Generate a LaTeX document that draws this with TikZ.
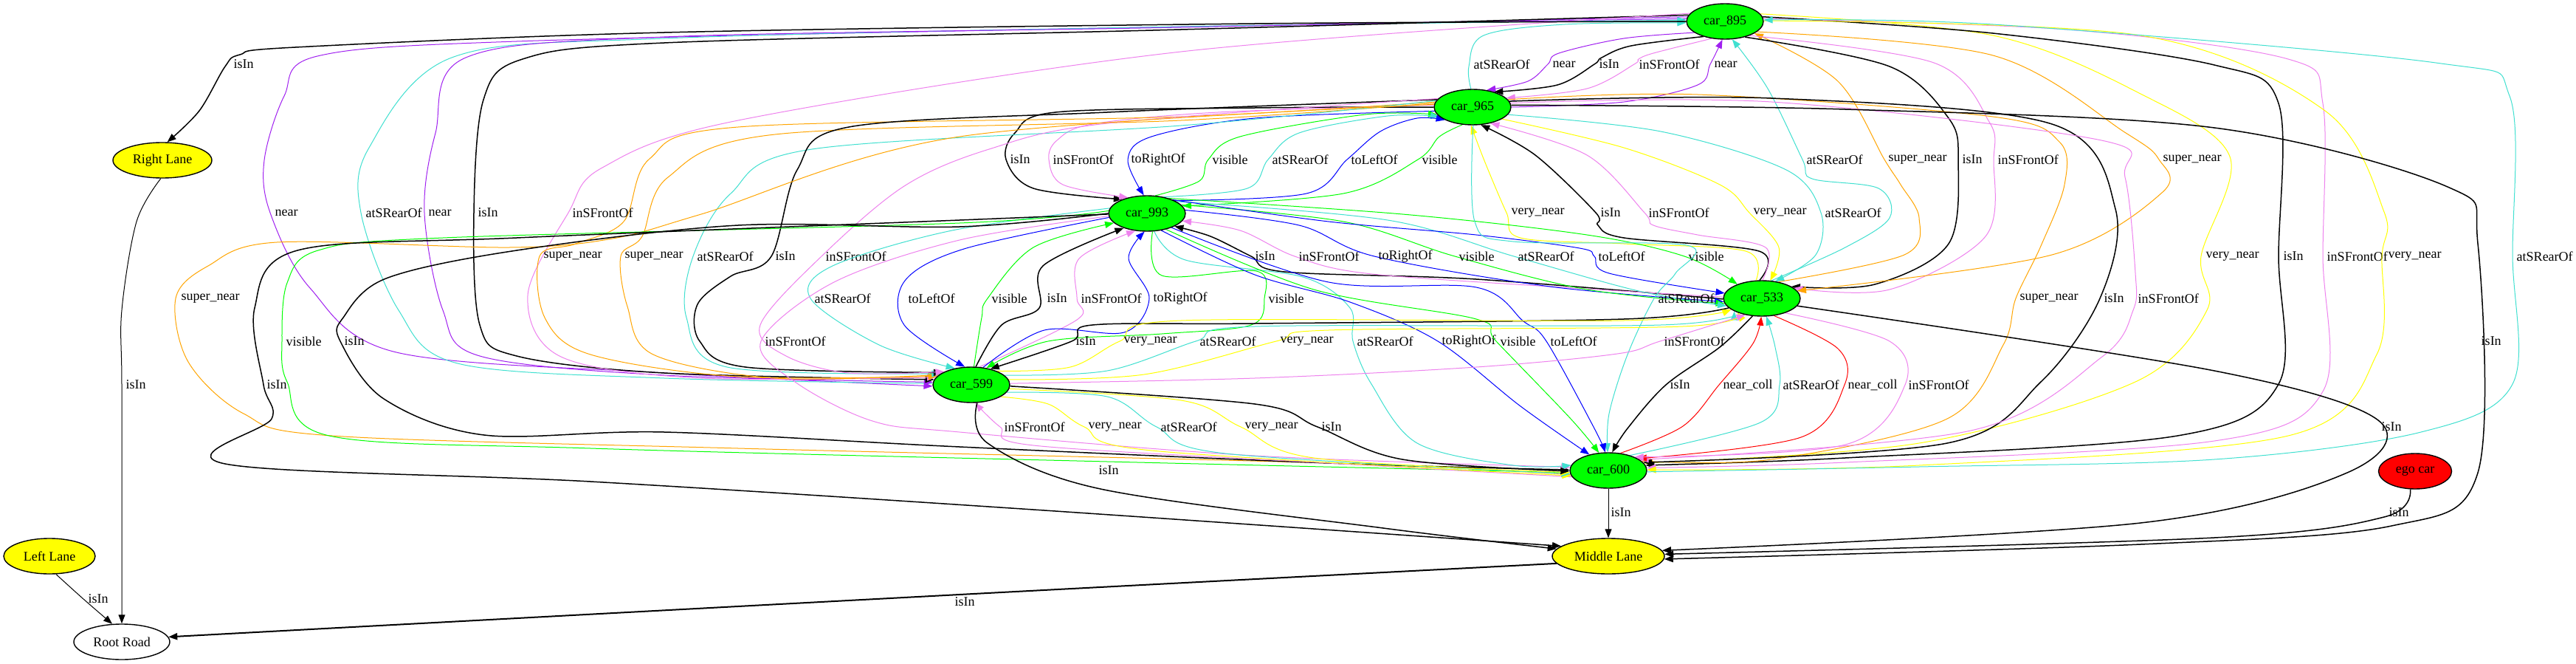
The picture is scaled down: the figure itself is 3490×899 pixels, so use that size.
\documentclass[tikz,border=0pt]{standalone}
\usepackage{fontspec}
\setmainfont{Liberation Serif}
\usetikzlibrary{arrows.meta,shapes.geometric}
\definecolor{gvpurple}{HTML}{A020F0}
\definecolor{gvturq}{HTML}{40E0D0}
\definecolor{gvviolet}{HTML}{EE82EE}
\definecolor{gvblue}{HTML}{0000FF}
\definecolor{gvgreen}{HTML}{00FF00}
\definecolor{gvyellow}{HTML}{FFFF00}
\definecolor{gvorange}{HTML}{FFA500}
\definecolor{gvred}{HTML}{FF0000}
\pgfdeclarelayer{bg}
\pgfsetlayers{bg,main}
\newcommand\gvedge[6]{\draw[gvline,#1] plot[smooth,tension=0.55] coordinates {#2};\node[lab] (#3) at (#4,#5) {#6};}
\begin{document}
\begin{tikzpicture}[x=1pt,y=-1pt,
 gvline/.style={line width=1pt,-{Triangle[length=12pt,width=9pt]}},
 blk/.style={black,line width=1.5pt},
 lab/.style={anchor=west,inner sep=0.5pt,font=\fontsize{18}{20}\selectfont},
 gnode/.style={ellipse,draw,line width=1.4pt,inner sep=0pt,font=\fontsize{18}{20}\selectfont},
 car/.style={gnode,fill=gvgreen,minimum width=104pt,minimum height=48pt},
 lane/.style={gnode,fill=gvyellow,minimum height=48pt}]
\useasboundingbox (0,0) rectangle (3490,899);
% nodes
\node[car] (c895) at (2337,29) {car\_895};
\node[car] (c965) at (1995,145) {car\_965};
\node[car] (c993) at (1554,289) {car\_993};
\node[car] (c533) at (2387,404) {car\_533};
\node[car] (c599) at (1316,521) {car\_599};
\node[car] (c600) at (2179,637) {car\_600};
\node[lane,minimum width=134pt] (rl) at (220,217) {Right Lane};
\node[lane,minimum width=124pt] (ll) at (67,753) {Left Lane};
\node[lane,minimum width=152pt] (ml) at (2179,753) {Middle Lane};
\node[gnode,fill=white,minimum width=130pt,minimum height=48pt] (rr) at (165,869) {Root Road};
\node[gnode,fill=gvred,minimum width=99pt,minimum height=48pt] (ego) at (3272,638) {ego car};
\begin{pgfonlayer}{bg}
\fill[white] (0,0) rectangle (3490,899);
% A: 895 - 965
\gvedge{gvturq}{(c965.95) (1990,90) (2010,48) (2120,33) (c895.182)}{lA1}{1996}{87}{atSRearOf}
\gvedge{gvpurple}{(c895.200) (2200,52) (2112,72) (2097,87) (2070,110) (c965.50)}{lA2}{2103}{87}{near}
\gvedge{blk}{(c895.215) (2210,62) (2170,78) (2160,87) (2110,115) (c965.35)}{lA3}{2166}{87}{isIn}
\gvedge{gvviolet}{(c895.232) (2240,72) (2220,80) (2214,87) (2150,120) (c965.15)}{lA4}{2220}{87}{inSFrontOf}
\gvedge{gvpurple}{(c965.0) (2200,138) (2300,115) (2317,87) (c895.262)}{lA5}{2322}{87}{near}
% B: 965 - 993
\gvedge{blk}{(c965.180) (1700,146) (1430,152) (1375,180) (1363,216) (1400,255) (c993.150)}{lB1}{1368}{216}{isIn}
\gvedge{gvviolet}{(c965.177) (1650,152) (1480,168) (1432,190) (1421,216) (1440,250) (c993.140)}{lB2}{1426}{216}{inSFrontOf}
\gvedge{gvblue}{(c965.186) (1700,160) (1560,185) (1528,216) (c993.100)}{lB3}{1532}{216}{toRightOf}
\gvedge{gvgreen}{(c993.65) (1625,245) (1637,216) (1680,185) (1850,155) (c965.192)}{lB4}{1642}{216}{visible}
\gvedge{gvturq}{(c993.45) (1690,255) (1718,216) (1760,180) (1880,157) (c965.196)}{lB5}{1723}{216}{atSRearOf}
\gvedge{gvblue}{(c993.25) (1770,262) (1825,216) (1870,178) (1920,160) (c965.205)}{lB6}{1830}{216}{toLeftOf}
\gvedge{gvgreen}{(c965.240) (1950,185) (1921,216) (1820,262) (c993.12)}{lB7}{1926}{216}{visible}
% C: 895 - 533
\gvedge{gvturq}{(c533.62) (2500,335) (2560,295) (2545,255) (2455,242) (2442,216) (2395,120) (c895.292)}{lC1}{2447}{216}{atSRearOf}
\gvedge{gvorange}{(c533.45) (2580,345) (2600,295) (2575,250) (2553,216) (2490,110) (c895.338)}{lC2}{2558}{216}{super\_near}
\gvedge{blk}{(c895.322) (2560,90) (2640,160) (2653,216) (2640,330) (2540,385) (c533.22)}{lC3}{2658}{216}{isIn}
\gvedge{gvviolet}{(c895.330) (2620,85) (2695,165) (2701,216) (2690,320) (2560,392) (c533.18)}{lC4}{2706}{216}{inSFrontOf}
\gvedge{gvorange}{(c895.342) (2700,75) (2880,180) (2925,216) (2930,260) (2780,345) (c533.12)}{lC5}{2930}{216}{super\_near}
% D: 895 - 599
\gvedge{gvpurple}{(c895.176) (1500,38) (700,56) (430,76) (385,130) (358,217) (366,288) (420,390) (537,477) (900,505) (c599.182)}{lD1}{372}{288}{near}
\gvedge{gvturq}{(c599.178) (900,512) (620,492) (540,420) (489,288) (500,200) (612,78) (900,52) (1600,36) (c895.178)}{lD2}{495}{288}{atSRearOf}
\gvedge{gvpurple}{(c895.173) (1600,37) (900,50) (631,78) (590,180) (575,288) (600,420) (650,482) (900,508) (c599.176)}{lD3}{580}{288}{near}
\gvedge{blk}{(c895.170) (1600,40) (900,58) (708,80) (655,135) (642,288) (650,440) (700,482) (900,505) (c599.172)}{lD4}{647}{288}{isIn}
\gvedge{gvviolet}{(c895.167) (1600,70) (1000,163) (816,227) (770,288) (715,400) (760,483) (950,512) (c599.168)}{lD5}{775}{288}{inSFrontOf}
% E: 965 - 533
\gvedge{gvyellow}{(c533.108) (2365,340) (2200,330) (2060,322) (2041,288) (2012,220) (c965.265)}{lE1}{2047}{288}{very\_near}
\gvedge{blk}{(c533.97) (2383,340) (2200,322) (2165,305) (2162,288) (2080,210) (c965.295)}{lE2}{2168}{288}{isIn}
\gvedge{gvviolet}{(c533.88) (2392,335) (2300,318) (2240,305) (2228,288) (2150,210) (c965.318)}{lE3}{2233}{288}{inSFrontOf}
\gvedge{gvyellow}{(c965.338) (2200,200) (2330,250) (2370,288) (2410,335) (c533.65)}{lE4}{2375}{288}{very\_near}
\gvedge{gvturq}{(c965.348) (2250,178) (2420,230) (2467,288) (2460,345) (c533.52)}{lE5}{2472}{288}{atSRearOf}
% F: 965 - 599
\gvedge{gvorange}{(c965.172) (1600,158) (1000,172) (880,215) (845,300) (780,330) (731,347) (738,430) (800,480) (1000,510) (c599.166)}{lF1}{736}{347}{super\_near}
\gvedge{gvorange}{(c965.174) (1600,163) (1050,182) (905,240) (870,320) (841,347) (850,415) (885,480) (1050,512) (c599.163)}{lF2}{846}{347}{super\_near}
\gvedge{gvturq}{(c965.170) (1600,170) (1100,202) (990,262) (939,347) (930,430) (985,497) (c599.160)}{lF3}{944}{347}{atSRearOf}
\gvedge{blk}{(c965.168) (1500,152) (1150,172) (1080,230) (1045,347) (990,374) (945,412) (948,462) (1010,497) (c599.157)}{lF4}{1050}{347}{isIn}
\gvedge{gvviolet}{(c965.166) (1500,167) (1340,202) (1225,252) (1113,347) (1030,440) (1065,482) (1150,505) (c599.154)}{lF5}{1118}{347}{inSFrontOf}
% G: 993 - 533
\gvedge{blk}{(c533.181) (2000,378) (1740,368) (1695,347) (1640,320) (c993.335)}{lG1}{1700}{347}{isIn}
\gvedge{gvviolet}{(c533.178) (2100,388) (1850,370) (1754,347) (1680,312) (c993.348)}{lG2}{1759}{347}{inSFrontOf}
\gvedge{gvblue}{(c993.5) (1760,305) (1862,347) (2100,388) (c533.185)}{lG3}{1867}{347}{toRightOf}
\gvedge{gvgreen}{(c993.14) (1820,300) (1971,347) (2150,392) (c533.188)}{lG4}{1976}{347}{visible}
\gvedge{gvturq}{(c993.22) (1880,298) (2051,347) (2220,394) (c533.192)}{lG5}{2056}{347}{atSRearOf}
\gvedge{gvblue}{(c993.28) (1800,300) (2000,318) (2140,336) (2160,347) (2180,370) (c533.172)}{lG6}{2165}{347}{toLeftOf}
\gvedge{gvgreen}{(c993.35) (1900,290) (2150,318) (2282,347) (c533.150)}{lG7}{2287}{347}{visible}
% H: 895 - 600
\gvedge{gvyellow}{(c895.12) (2700,48) (2900,127) (3021,212) (2982,347) (2990,420) (2893,517) (2600,600) (c600.12)}{lH1}{2988}{347}{very\_near}
\gvedge{blk}{(c895.7) (2700,45) (3000,88) (3087,140) (3087,347) (3087,520) (2950,590) (2500,620) (c600.8)}{lH2}{3093}{347}{isIn}
\gvedge{gvviolet}{(c895.4) (2800,40) (3100,80) (3147,140) (3147,347) (3147,530) (3000,597) (2500,626) (c600.4)}{lH3}{3152}{347}{inSFrontOf}
\gvedge{gvyellow}{(c895.1) (2900,48) (3150,150) (3230,287) (3227,347) (3220,480) (3100,590) (2600,630) (c600.1)}{lH4}{3235}{347}{very\_near}
\gvedge{gvturq}{(c600.358) (2600,632) (3000,622) (3280,585) (3404,520) (3404,347) (3400,130) (3300,85) (2700,33) (c895.2)}{lH5}{3409}{347}{atSRearOf}
% I: 965 - 600
\gvedge{gvorange}{(c965.176) (1300,185) (950,290) (830,323) (690,335) (375,328) (282,360) (238,404) (255,490) (330,560) (450,590) (1000,607) (1800,627) (c600.186)}{lI1}{245}{404}{super\_near}
\gvedge{gvturq}{(c965.272) (1998,300) (2050,327) (2285,332) (2270,370) (2241,404) (2205,480) (2180,560) (c600.92)}{lI2}{2246}{404}{atSRearOf}
\gvedge{gvorange}{(c965.12) (2300,128) (2700,158) (2790,192) (2797,250) (2765,333) (2731,404) (2714,467) (2638,567) (2400,622) (c600.16)}{lI3}{2736}{404}{super\_near}
\gvedge{blk}{(c965.9) (2400,133) (2780,168) (2866,283) (2845,404) (2765,517) (2638,600) (c600.13)}{lI4}{2850}{404}{isIn}
\gvedge{gvviolet}{(c965.6) (2400,138) (2847,190) (2879,240) (2893,370) (2890,420) (2848,483) (2670,583) (c600.19)}{lI5}{2896}{404}{inSFrontOf}
% J: 993 - 599
\gvedge{gvturq}{(c993.172) (1290,312) (1128,360) (1098,404) (1191,467) (c599.135)}{lJ1}{1103}{404}{atSRearOf}
\gvedge{gvblue}{(c993.186) (1306,337) (1226,380) (1225,440) (c599.110)}{lJ2}{1230}{404}{toLeftOf}
\gvedge{gvgreen}{(c599.82) (1330,430) (1338,404) (1400,335) (c993.196)}{lJ3}{1343}{404}{visible}
\gvedge{blk}{(c599.76) (1357,440) (1408,417) (1413,360) (c993.212)}{lJ4}{1418}{404}{isIn}
\gvedge{gvviolet}{(c599.66) (1459,433) (1459,404) (1462,350) (c993.236)}{lJ5}{1464}{404}{inSFrontOf}
\gvedge{gvblue}{(c599.56) (1415,447) (1523,450) (1557,404) (1529,350) (c993.262)}{lJ6}{1562}{404}{toRightOf}
\gvedge{gvgreen}{(c993.287) (1574,373) (1702,367) (1713,404) (1695,440) (1574,452) (1420,462) (c599.48)}{lJ7}{1718}{404}{visible}
% K: 993 - 600
\gvedge{gvgreen}{(c993.176) (1300,302) (600,322) (431,339) (389,383) (382,462) (389,517) (446,590) (800,607) (1500,625) (c600.183)}{lK1}{387}{462}{visible}
\gvedge{blk}{(c993.180) (1300,307) (1000,305) (700,339) (523,377) (465,430) (461,462) (520,540) (656,589) (900,585) (1300,605) (1800,627) (c600.179)}{lK2}{466}{462}{isIn}
\gvedge{gvviolet}{(c993.184) (1300,325) (1130,382) (1031,462) (1077,517) (1182,570) (1300,585) (1700,617) (c600.175)}{lK3}{1036}{462}{inSFrontOf}
\gvedge{gvturq}{(c993.292) (1606,352) (1765,375) (1829,417) (1833,462) (1858,520) (1920,600) (2050,630) (c600.172)}{lK4}{1838}{462}{atSRearOf}
\gvedge{gvblue}{(c993.310) (1700,372) (1829,409) (1948,462) (2060,550) (c600.140)}{lK5}{1953}{462}{toRightOf}
\gvedge{gvgreen}{(c993.320) (1780,392) (2000,432) (2027,462) (2128,567) (c600.118)}{lK6}{2032}{462}{visible}
\gvedge{gvblue}{(c993.330) (1800,382) (2000,389) (2064,435) (2095,462) (2160,580) (c600.100)}{lK7}{2100}{462}{toLeftOf}
% L: 533 - 599
\gvedge{blk}{(c533.196) (2200,432) (1700,438) (1480,440) (1452,462) (c599.40)}{lL1}{1457}{462}{isIn}
\gvedge{gvyellow}{(c599.28) (1450,497) (1517,462) (1600,434) (2200,434) (c533.200)}{lL2}{1522}{462}{very\_near}
\gvedge{gvturq}{(c599.16) (1500,502) (1620,462) (1700,442) (2250,440) (c533.205)}{lL3}{1625}{462}{atSRearOf}
\gvedge{gvyellow}{(c599.8) (1550,507) (1729,462) (1800,447) (2280,442) (c533.210)}{lL4}{1734}{462}{very\_near}
\gvedge{gvviolet}{(c599.2) (1700,512) (2000,497) (2191,479) (2249,462) (c533.225)}{lL5}{2254}{462}{inSFrontOf}
% M: 533 - 600
\gvedge{blk}{(c533.242) (2330,470) (2257,521) (2205,580) (c600.78)}{lM1}{2262}{521}{isIn}
\gvedge{gvred}{(c600.55) (2280,577) (2329,521) (2375,465) (c533.268)}{lM2}{2334}{521}{near\_coll}
\gvedge{gvturq}{(c600.35) (2385,572) (2411,521) (2405,470) (c533.284)}{lM3}{2415}{521}{atSRearOf}
\gvedge{gvred}{(c533.305) (2490,472) (2499,521) (2440,592) (c600.22)}{lM4}{2503}{521}{near\_coll}
\gvedge{gvviolet}{(c533.328) (2560,462) (2581,521) (2500,602) (c600.27)}{lM5}{2585}{521}{inSFrontOf}
% N: 599 - 600
\gvedge{gvviolet}{(c600.190) (1800,627) (1400,603) (1355,578) (c599.282)}{lN1}{1360}{578}{inSFrontOf}
\gvedge{gvyellow}{(c599.338) (1420,547) (1469,578) (1560,610) (c600.188)}{lN2}{1474}{578}{very\_near}
\gvedge{gvturq}{(c599.348) (1500,537) (1567,578) (1660,614) (c600.185)}{lN3}{1572}{578}{atSRearOf}
\gvedge{gvyellow}{(c599.354) (1600,542) (1681,578) (1780,620) (c600.183)}{lN4}{1686}{578}{very\_near}
\gvedge{blk}{(c599.358) (1700,547) (1785,578) (1900,622) (c600.181)}{lN5}{1790}{578}{isIn}
% O: lanes and road
\gvedge{blk}{(c895.180) (1700,32) (900,44) (400,64) (325,74) (305,90) (270,150) (rl.75)}{lO1}{316}{87}{isIn}
\gvedge{black,line width=1pt}{(rl.265) (185,300) (165,420) (165,521) (165,780) (rr.90)}{lO2}{170}{521}{isIn}
\gvedge{black,line width=1pt}{(ll.290) (113,811) (rr.118)}{lO3}{119}{811}{isIn}
\gvedge{black,line width=2pt}{(ml.188) (1300,805) (rr.6)}{lO4}{1293}{815}{isIn}
\gvedge{black,line width=1pt}{(c600.south) (ml.north)}{lO5}{2182}{694}{isIn}
\gvedge{blk}{(ego.255) (3230,700) (3000,728) (ml.2)}{lO6}{3236}{694}{isIn}
\gvedge{blk}{(c533.348) (3000,502) (3222,569) (3180,640) (2900,708) (ml.6)}{lO7}{3226}{578}{isIn}
\gvedge{blk}{(c965.3) (2500,148) (3000,173) (3316,253) (3357,330) (3357,640) (3240,712) (2900,737) (ml.357)}{lO8}{3361}{462}{isIn}
\gvedge{blk}{(c599.288) (1338,600) (1491,662) (1874,715) (ml.172)}{lO9}{1488}{637}{isIn}
\gvedge{blk}{(c993.181) (1300,298) (700,322) (403,339) (345,417) (357,521) (368,567) (305,628) (800,652) (1400,690) (ml.168)}{lO10}{361}{521}{isIn}
\end{pgfonlayer}
\end{tikzpicture}
\end{document}
